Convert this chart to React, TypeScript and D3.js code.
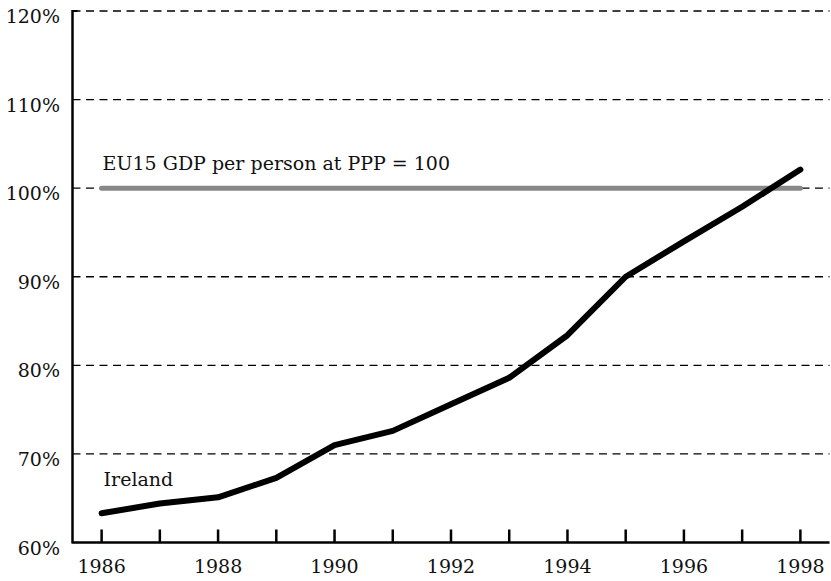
import React from "react";
import * as d3 from "d3";

const years = [1986, 1987, 1988, 1989, 1990, 1991, 1992, 1993, 1994, 1995, 1996, 1997, 1998];
const ireland = [63.3, 64.4, 65.1, 67.3, 71.0, 72.6, 75.6, 78.6, 83.4, 90.0, 94.0, 97.9, 102.1];
const euLevel = 100;
const yTicks = [60, 70, 80, 90, 100, 110, 120];
const xLabels = [1986, 1988, 1990, 1992, 1994, 1996, 1998];
const irelandLabel = "Ireland";
const euLabel = "EU15 GDP per person at PPP = 100";

export default function App() {
  const W = 831, H = 581;
  const x = d3.scaleLinear().domain([1985.5, 1998.5]).range([72.5, 829.5]);
  const y = d3.scaleLinear().domain([60, 120]).range([542.5, 11]);
  const line = d3.line<number>().x((_, i) => x(years[i])).y((d) => y(d));
  const font = "'DejaVu Serif', serif";
  const fs = 19;
  return (
    <svg width={W} height={H} style={{ position: "absolute", left: 0, top: 0, background: "#fff" }} fontFamily={font}>
      {yTicks.filter((t) => t > 60).map((t) => (
        <line key={t} x1={x.range()[0]} x2={x.range()[1]} y1={y(t)} y2={y(t)} stroke="#000" strokeWidth={1.3} strokeDasharray="8,5.5" />
      ))}
      <line x1={x(years[0])} x2={x(years[years.length - 1])} y1={y(euLevel)} y2={y(euLevel)} stroke="#888" strokeWidth={5} strokeLinecap="round" />
      <text x={x(1986) + 1} y={y(euLevel) - 18.5} fontSize={fs} fill="#111">{euLabel}</text>
      <path d={line(ireland) || ""} fill="none" stroke="#000" strokeWidth={6} strokeLinecap="round" strokeLinejoin="round" />
      <text x={x(1986) + 2} y={y(66.4)} fontSize={fs} fill="#111">{irelandLabel}</text>
      <line x1={x.range()[0]} x2={x.range()[0]} y1={y(120) - 1} y2={y(60) + 1} stroke="#000" strokeWidth={2.5} />
      <line x1={x.range()[0]} x2={x.range()[1]} y1={y(60)} y2={y(60)} stroke="#000" strokeWidth={2.5} />
      <line x1={x.range()[0]} x2={x.range()[0] + 5} y1={y(120)} y2={y(120)} stroke="#000" strokeWidth={2} />
      {years.map((yr) => (
        <line key={yr} x1={x(yr)} x2={x(yr)} y1={y(60)} y2={y(60) - 13} stroke="#000" strokeWidth={2.5} />
      ))}
      {xLabels.map((yr) => (
        <text key={yr} x={x(yr)} y={y(60) + 30} fontSize={fs} textAnchor="middle" fill="#111">{yr}</text>
      ))}
      {yTicks.map((t) => (
        <text key={t} x={60} y={y(t) + 12} fontSize={fs} textAnchor="end" fill="#111">{t}%</text>
      ))}
    </svg>
  );
}
